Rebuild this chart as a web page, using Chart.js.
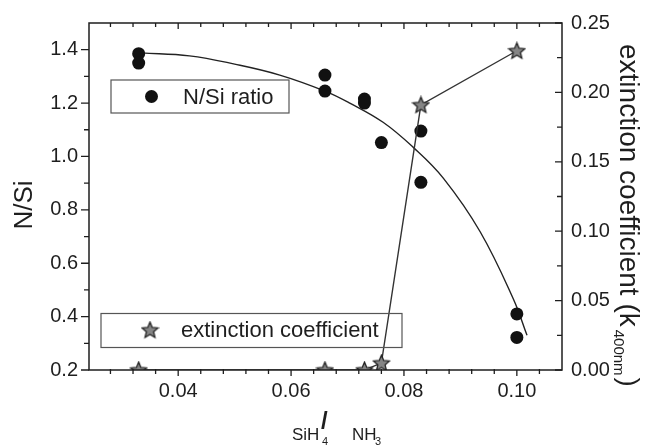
<!DOCTYPE html>
<html>
<head>
<meta charset="utf-8">
<script src="https://cdn.jsdelivr.net/npm/chart.js@4.4.1/dist/chart.umd.min.js"></script>
<style>
html,body{margin:0;padding:0;background:#fff;}
#wrap{width:647px;height:448px;position:relative;}
</style>
</head>
<body>
<div id="wrap"><canvas id="c" width="647" height="448"></canvas></div>
<script>
// ---- data ----
const nsiX = [0.033, 0.033, 0.066, 0.066, 0.073, 0.073, 0.076, 0.083, 0.083, 0.100, 0.100];
const nsiY = [1.385, 1.350, 1.305, 1.245, 1.215, 1.200, 1.052, 1.095, 0.903, 0.410, 0.322];
const extX = [0.033, 0.066, 0.073, 0.076, 0.083, 0.100];
const extY = [0.000, 0.000, 0.000, 0.005, 0.191, 0.230];
const fitX = [0.0335, 0.042, 0.050, 0.058, 0.066, 0.0704, 0.0763, 0.0816, 0.087, 0.0935, 0.0994, 0.1018];
const fitY = [1.388, 1.377, 1.346, 1.305, 1.245, 1.200, 1.128, 1.035, 0.918, 0.718, 0.465, 0.330];
const xTicks = [0.04, 0.06, 0.08, 0.10];
const xMinorTicks = [0.028, 0.032, 0.036, 0.044, 0.048, 0.052, 0.056, 0.064, 0.068, 0.072, 0.076, 0.084, 0.088, 0.092, 0.096, 0.104];
const yTicks = [0.2, 0.4, 0.6, 0.8, 1.0, 1.2, 1.4];
const yMinorTicks = [0.3, 0.5, 0.7, 0.9, 1.1, 1.3];
const y1Ticks = [0.00, 0.05, 0.10, 0.15, 0.20, 0.25];
const y1MinorTicks = [0.025, 0.075, 0.125, 0.175, 0.225];
const legendLabels = ['N/Si ratio', 'extinction coefficient'];

const FONT = '"Liberation Sans", Arial, sans-serif';
const INK = '#1e1e1e';

// star point image
function makeStar(size) {
  const cv = document.createElement('canvas');
  cv.width = size; cv.height = size;
  const g = cv.getContext('2d');
  const cx = size / 2, cy = size / 2 + 0.6, ro = size / 2 - 1, ri = ro * 0.45;
  g.beginPath();
  for (let i = 0; i < 10; i++) {
    const r = i % 2 === 0 ? ro : ri;
    const a = -Math.PI / 2 + i * Math.PI / 5;
    const px = cx + r * Math.cos(a), py = cy + r * Math.sin(a);
    if (i === 0) g.moveTo(px, py); else g.lineTo(px, py);
  }
  g.closePath();
  g.fillStyle = '#858585';
  g.fill();
  g.lineWidth = 1.3;
  g.strokeStyle = '#222';
  g.stroke();
  return cv;
}
const starImg = makeStar(19);

const decor = {
  id: 'decor',
  afterDraw(chart) {
    const { ctx, chartArea: a, scales } = chart;
    const sx = scales.x, sy = scales.y, sy1 = scales.y1;
    ctx.save();
    ctx.strokeStyle = INK;
    ctx.lineWidth = 1.5;
    ctx.strokeRect(a.left, a.top, a.right - a.left, a.bottom - a.top);
    ctx.lineWidth = 1.3;
    ctx.beginPath();
    xTicks.forEach(v => {
      const p = sx.getPixelForValue(v);
      ctx.moveTo(p, a.bottom); ctx.lineTo(p, a.bottom + 6);
      ctx.moveTo(p, a.top); ctx.lineTo(p, a.top + 6);
    });
    xMinorTicks.forEach(v => {
      const p = sx.getPixelForValue(v);
      ctx.moveTo(p, a.bottom - 1); ctx.lineTo(p, a.bottom + 4);
      ctx.moveTo(p, a.top); ctx.lineTo(p, a.top + 4);
    });
    yTicks.forEach(v => {
      const p = sy.getPixelForValue(v);
      ctx.moveTo(a.left - 8, p); ctx.lineTo(a.left, p);
    });
    yMinorTicks.forEach(v => {
      const p = sy.getPixelForValue(v);
      ctx.moveTo(a.left - 5, p); ctx.lineTo(a.left, p);
    });
    y1Ticks.forEach(v => {
      const p = sy1.getPixelForValue(v);
      ctx.moveTo(a.right - 7, p); ctx.lineTo(a.right, p);
    });
    y1MinorTicks.forEach(v => {
      const p = sy1.getPixelForValue(v);
      ctx.moveTo(a.right - 5, p); ctx.lineTo(a.right, p);
    });
    ctx.stroke();

    // legend boxes
    ctx.lineWidth = 1.2;
    ctx.strokeStyle = '#555';
    ctx.strokeRect(111, 80, 178, 33);
    ctx.strokeRect(101, 313.5, 301, 34);
    ctx.fillStyle = '#111';
    ctx.beginPath(); ctx.arc(151.5, 96.5, 6.5, 0, Math.PI * 2); ctx.fill();
    ctx.drawImage(starImg, 150 - 9.5, 330 - 9.5);
    ctx.fillStyle = INK;
    ctx.font = '22px ' + FONT;
    ctx.textBaseline = 'middle';
    ctx.textAlign = 'left';
    ctx.fillText(legendLabels[0], 183, 97.5);
    ctx.fillText(legendLabels[1], 181, 331);

    // left title
    ctx.save();
    ctx.translate(32, 205);
    ctx.rotate(-Math.PI / 2);
    ctx.textAlign = 'center';
    ctx.textBaseline = 'alphabetic';
    ctx.font = '26px ' + FONT;
    ctx.fillText('N/Si', 0, 0);
    ctx.restore();

    // right title
    ctx.save();
    ctx.translate(620, 44);
    ctx.rotate(Math.PI / 2);
    ctx.textAlign = 'left';
    ctx.textBaseline = 'alphabetic';
    ctx.font = '28px ' + FONT;
    const t1 = 'extinction coefficient (k';
    ctx.fillText(t1, 0, 0);
    let w = ctx.measureText(t1).width + 3;
    ctx.font = '15px ' + FONT;
    ctx.fillText('400nm', w, 6);
    w += ctx.measureText('400nm').width + 2;
    ctx.font = '28px ' + FONT;
    ctx.fillText(')', w, 0);
    ctx.restore();

    // x title: SiH4 / NH3
    ctx.textBaseline = 'alphabetic';
    ctx.font = '17px ' + FONT;
    ctx.fillText('SiH', 292, 440);
    ctx.fillText('NH', 352, 440);
    ctx.font = '11px ' + FONT;
    ctx.fillText('4', 322, 445);
    ctx.fillText('3', 375, 445);
    ctx.font = 'bold 24px ' + FONT;
    ctx.fillText('/', 321, 429);
    ctx.restore();
  }
};

const toPts = (xs, ys) => xs.map((x, i) => ({ x, y: ys[i] }));

new Chart(document.getElementById('c'), {
  type: 'scatter',
  data: {
    datasets: [
      {
        label: 'fit',
        data: toPts(fitX, fitY),
        yAxisID: 'y',
        showLine: true,
        borderColor: '#222',
        borderWidth: 1.4,
        pointRadius: 0,
        tension: 0.4,
        order: 3
      },
      {
        label: legendLabels[1],
        data: toPts(extX, extY),
        yAxisID: 'y1',
        showLine: true,
        borderColor: '#333',
        borderWidth: 1.4,
        pointStyle: starImg,
        pointRadius: 9,
        order: 1
      },
      {
        label: legendLabels[0],
        data: toPts(nsiX, nsiY),
        yAxisID: 'y',
        backgroundColor: '#111',
        borderColor: '#111',
        pointRadius: 6.5,
        pointBorderWidth: 0,
        order: 2
      }
    ]
  },
  options: {
    responsive: false,
    animation: false,
    layout: { padding: { top: 21, left: 0, right: 0, bottom: 0 }, autoPadding: false },
    plugins: { legend: { display: false }, tooltip: { enabled: false } },
    scales: {
      x: {
        type: 'linear', min: 0.0242, max: 0.108,
        afterBuildTicks: s => { s.ticks = xTicks.map(v => ({ value: v })); },
        afterFit: s => { s.height = 78; },
        grid: { display: false, drawTicks: false },
        border: { display: false },
        ticks: { color: INK, font: { size: 20, family: FONT }, padding: 9, maxRotation: 0,
          callback: v => v.toFixed(2) }
      },
      y: {
        type: 'linear', position: 'left', min: 0.2, max: 1.5,
        afterBuildTicks: s => { s.ticks = yTicks.map(v => ({ value: v })); },
        afterFit: s => { s.width = 89; },
        grid: { display: false, drawTicks: false },
        border: { display: false },
        ticks: { color: INK, font: { size: 20, family: FONT }, padding: 11,
          callback: v => v.toFixed(1) }
      },
      y1: {
        type: 'linear', position: 'right', min: 0, max: 0.25,
        afterBuildTicks: s => { s.ticks = y1Ticks.map(v => ({ value: v })); },
        afterFit: s => { s.width = 85; },
        grid: { display: false, drawTicks: false },
        border: { display: false },
        ticks: { color: INK, font: { size: 20, family: FONT }, padding: 9,
          callback: v => v.toFixed(2) }
      }
    }
  },
  plugins: [decor]
});
</script>
</body>
</html>
